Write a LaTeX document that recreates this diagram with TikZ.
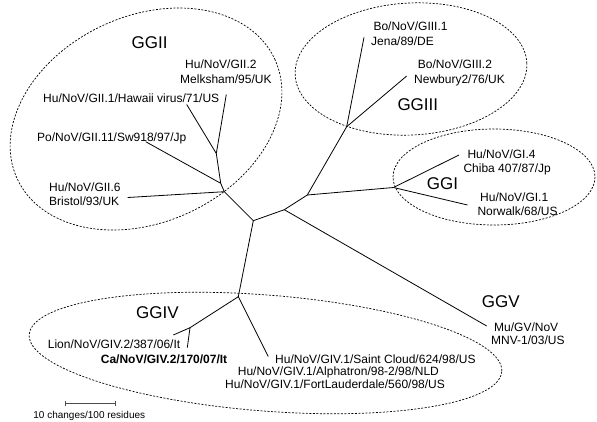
\documentclass[tikz,border=0pt]{standalone}
\usepackage{fontspec}
\setmainfont{Liberation Sans}
\begin{document}
\begin{tikzpicture}[x=1pt,y=-1pt,
  branch/.style={draw=black,line width=0.8pt},
  group/.style={draw=black,line width=0.7pt,dash pattern=on 2pt off 1.5pt},
  lab/.style={inner sep=0pt,anchor=base west,font=\fontsize{12}{14}\selectfont},
  glab/.style={inner sep=0pt,anchor=base west,font=\fontsize{17}{20}\selectfont},
  scaletxt/.style={inner sep=0pt,anchor=base,font=\fontsize{10}{12}\selectfont}]
\useasboundingbox (0,0) rectangle (597,421);
% groups
\draw[group,rotate around={25:(146,119)}] (146,119) ellipse [x radius=142,y radius=103];
\draw[group,rotate around={3:(411,69)}] (411,69) ellipse [x radius=116,y radius=66];
\draw[group] (494,177) ellipse [x radius=101,y radius=48];
\draw[group,rotate around={-4.5:(265.5,353)}] (265.5,353) ellipse [x radius=237,y radius=58];
% tree points
\coordinate (B) at (253.3,220.7);
\coordinate (g1) at (224.3,191.7);
\coordinate (g2) at (220.7,183.3);
\coordinate (g3) at (216.3,153.5);
\coordinate (bristol) at (127.7,197.5);
\coordinate (po) at (145.7,141.7);
\coordinate (hawaii) at (186.7,104.5);
\coordinate (melk) at (226.3,94.5);
\coordinate (C) at (284.3,209.7);
\coordinate (D) at (307.3,195);
\coordinate (g3n) at (346.7,126.7);
\coordinate (jena) at (364,37.3);
\coordinate (newb) at (406.7,76);
\coordinate (g1n) at (393.5,187.5);
\coordinate (chiba) at (459,155);
\coordinate (norw) at (467.5,205);
\coordinate (mnv) at (486.7,326);
\coordinate (g4n) at (238.3,296.7);
\coordinate (saint) at (268.3,356.5);
\coordinate (g42) at (190,327.7);
\coordinate (lion) at (173.3,335);
\coordinate (ca) at (187.3,347.7);
% branches
\draw[branch] (B) -- (g1) -- (g2) -- (g3);
\draw[branch] (g1) -- (bristol);
\draw[branch] (g2) -- (po);
\draw[branch] (g3) -- (hawaii);
\draw[branch] (g3) -- (melk);
\draw[branch] (B) -- (C) -- (D) -- (g3n);
\draw[branch] (g3n) -- (jena);
\draw[branch] (g3n) -- (newb);
\draw[branch] (D) -- (g1n);
\draw[branch] (g1n) -- (chiba);
\draw[branch] (g1n) -- (norw);
\draw[branch] (C) -- (mnv);
\draw[branch] (B) -- (g4n) -- (saint);
\draw[branch] (g4n) -- (g42);
\draw[branch] (g42) -- (lion);
\draw[branch] (g42) -- (ca);
% group labels
\node[glab] (tGII) at (131.5,48.4) {GGII};
\node[glab] (tGIII) at (397.3,110.1) {GGIII};
\node[glab] (tGI) at (426.7,189.4) {GGI};
\node[glab] (tGV) at (481.7,307.8) {GGV};
\node[glab] (tGIV) at (136,318.4) {GGIV};
% leaf labels
\node[lab] (l1a) at (185,68.3) {Hu/NoV/GII.2};
\node[lab] (l1b) at (180,83.6) {Melksham/95/UK};
\node[lab] (l2) at (43,102.6) {Hu/NoV/GII.1/Hawaii virus/71/US};
\node[lab] (l3) at (37,141) {Po/NoV/GII.11/Sw918/97/Jp};
\node[lab] (l4a) at (49,191.6) {Hu/NoV/GII.6};
\node[lab] (l4b) at (49,205.6) {Bristol/93/UK};
\node[lab] (l5a) at (373.3,30.3) {Bo/NoV/GIII.1};
\node[lab] (l5b) at (371,45) {Jena/89/DE};
\node[lab] (l6a) at (417.7,68.5) {Bo/NoV/GIII.2};
\node[lab] (l6b) at (414,83.6) {Newbury2/76/UK};
\node[lab] (l7a) at (467.3,158.6) {Hu/NoV/GI.4};
\node[lab] (l7b) at (463.3,172.6) {Chiba 407/87/Jp};
\node[lab] (l8a) at (480,201) {Hu/NoV/GI.1};
\node[lab] (l8b) at (477.3,215.3) {Norwalk/68/US};
\node[lab] (l9a) at (494,331) {Mu/GV/NoV};
\node[lab] (l9b) at (491,344.3) {MNV-1/03/US};
\node[lab] (l10) at (47.7,348.3) {Lion/NoV/GIV.2/387/06/It};
\node[lab,font=\fontsize{12}{14}\selectfont\bfseries] (l11) at (100.7,363) {Ca/NoV/GIV.2/170/07/It};
\node[lab] (l12a) at (275,363.6) {Hu/NoV/GIV.1/Saint Cloud/624/98/US};
\node[lab] (l12b) at (237.7,375.3) {Hu/NoV/GIV.1/Alphatron/98-2/98/NLD};
\node[lab] (l12c) at (225,388.6) {Hu/NoV/GIV.1/FortLauderdale/560/98/US};
% scale bar
\coordinate (s1) at (65.7,403.3);
\coordinate (s2) at (115.7,403.3);
\draw[line width=1.1pt,draw=black!70] (s1) -- (s2);
\draw[line width=0.8pt,draw=black!70] ([yshift=-2.2pt]s1) -- ([yshift=2.2pt]s1);
\draw[line width=0.8pt,draw=black!70] ([yshift=-2.2pt]s2) -- ([yshift=2.2pt]s2);
\node[scaletxt] (stxt) at (89.3,418.6) {10 changes/100 residues};
\end{tikzpicture}
\end{document}
